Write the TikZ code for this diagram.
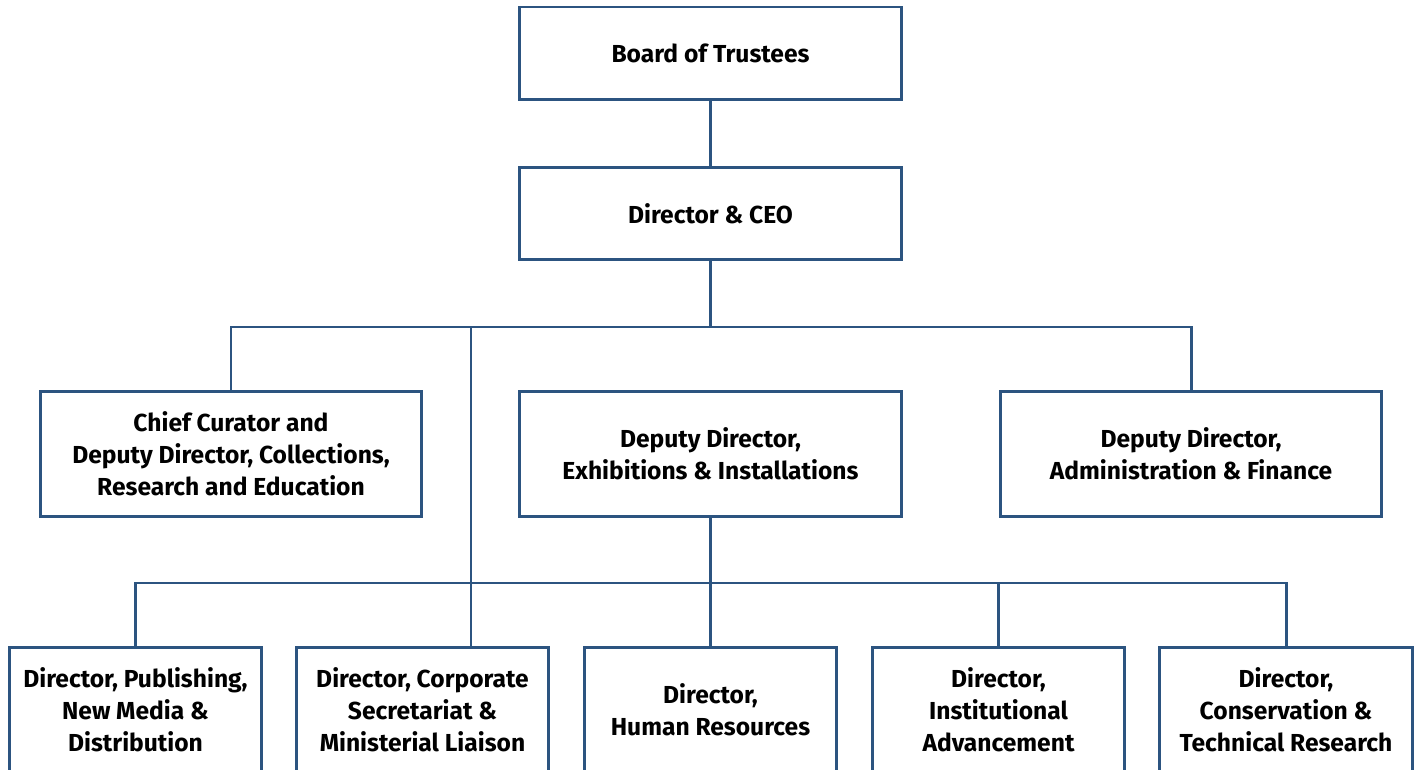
\documentclass[tikz,border=0pt]{standalone}
\usepackage{fontspec}
\setmainfont{Fira Sans}
\usepackage{tikz}
\usetikzlibrary{positioning,calc}
\definecolor{orgblue}{RGB}{44,84,128}

\begin{document}
\begin{tikzpicture}[x=0.02cm,y=-0.02cm,
    box/.style={rectangle,draw=orgblue,line width=1.7pt,fill=white,align=center,
      font=\fontsize{14}{18.2}\selectfont\bfseries,inner sep=0pt},
    topbox/.style={box,minimum width=7.66cm,minimum height=1.86cm},
    midbox/.style={box,minimum width=7.64cm,minimum height=2.52cm},
    lowbox/.style={box,minimum width=5.06cm,minimum height=2.52cm},
    link/.style={draw=orgblue,line width=1.7pt}]
    \useasboundingbox (0,0) rectangle (1417,770);
    \clip (0,0) rectangle (1417,770);
    % Top of the chart
    \node (board) [topbox] at (710.5,53.5) {Board of Trustees};
    \node (ceo) [topbox] at (710.5,213.5) {Director \& CEO};
    % Deputies
    \node (curator) [midbox] at (231,454) {Chief Curator and\\Deputy Director, Collections,\\Research and Education};
    \node (exhib) [midbox] at (710.5,454) {Deputy Director,\\Exhibitions \& Installations};
    \node (admin) [midbox] at (1191,454) {Deputy Director,\\Administration \& Finance};
    % Directors
    \node (publish) [lowbox] at (135.5,710) {Director, Publishing,\\New Media \&\\Distribution};
    \node (corp) [lowbox] at (422.5,710) {Director, Corporate\\Secretariat \&\\Ministerial Liaison};
    \node (hr) [lowbox] at (710.5,710) {Director,\\Human Resources};
    \node (inst) [lowbox] at (998.5,710) {Director,\\Institutional\\Advancement};
    \node (conserv) [lowbox] at (1286,710) {Director,\\Conservation \&\\Technical Research};

    \coordinate (bus_top) at (710.5,327);
    \coordinate (bus_low) at (710.5,583);
    \coordinate (corp_in) at (471,647);

    \draw[link] (board.south) -- (ceo.north);
    \draw[link] (ceo.south) -- (bus_top);
    \draw[link] (curator.north) |- (bus_top) -| (admin.north);
    \draw[link] (corp_in |- bus_top) -- (corp_in);
    \draw[link] (exhib.south) -- (hr.north);
    \draw[link] (publish.north) |- (bus_low) -| (conserv.north);
    \draw[link] (inst.north |- bus_low) -- (inst.north);
\end{tikzpicture}
\end{document}
